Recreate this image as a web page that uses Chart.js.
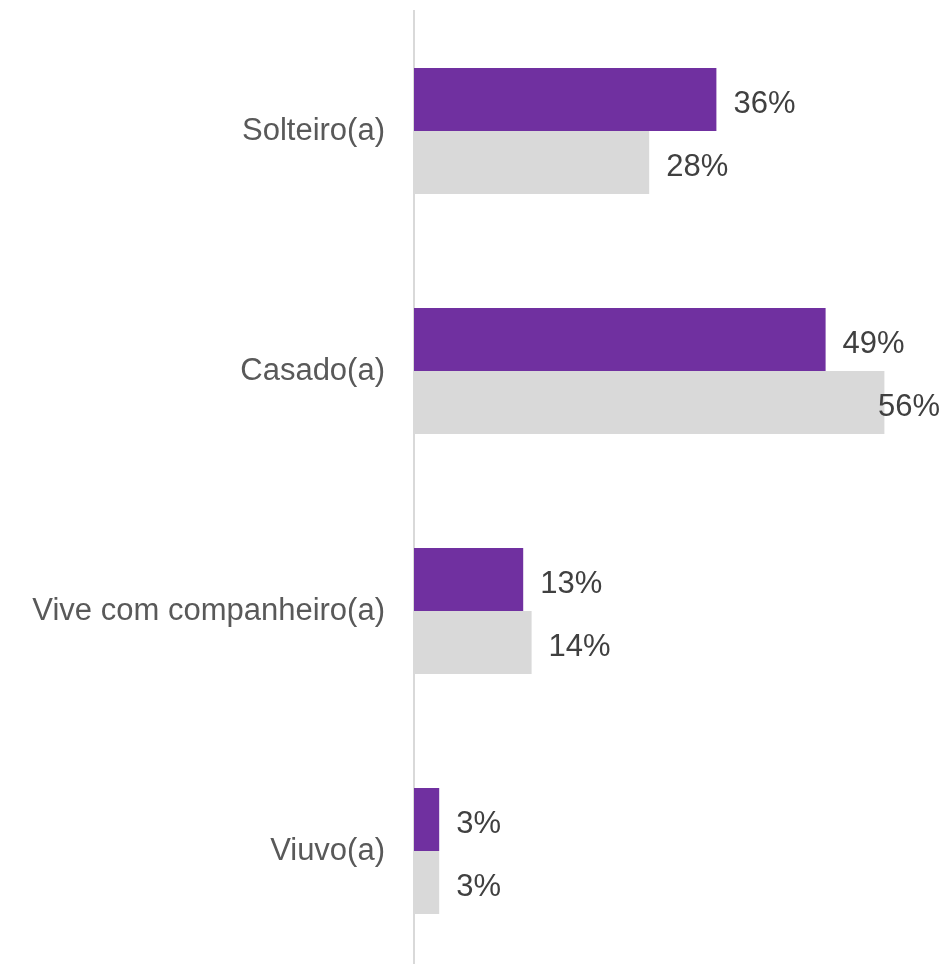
<!DOCTYPE html>
<html>
<head>
<meta charset="utf-8">
<script src="https://cdn.jsdelivr.net/npm/chart.js@4"></script>
<style>
  html, body { margin: 0; padding: 0; background: #fff; overflow: hidden; }
  #wrap { width: 945px; height: 964px; overflow: hidden; }
</style>
</head>
<body>
<div id="wrap">
  <canvas id="chart" width="945" height="980"></canvas>
</div>
<script>
// estado civil, two groups compared (percent)
const categories = ["Solteiro(a)", "Casado(a)", "Vive com companheiro(a)", "Viuvo(a)"];
const groupA = [36, 49, 13, 3];
const groupB = [28, 56, 14, 3];

const FONT = "'Liberation Sans', Arial, Helvetica, sans-serif";

// value labels to the right of each bar, kept inside the canvas
const valueLabels = {
  id: "valueLabels",
  afterDatasetsDraw(chart) {
    const ctx = chart.ctx;
    ctx.save();
    ctx.font = "31px " + FONT;
    ctx.fillStyle = "#404040";
    ctx.textAlign = "left";
    ctx.textBaseline = "alphabetic";
    chart.data.datasets.forEach((ds, i) => {
      chart.getDatasetMeta(i).data.forEach((bar, j) => {
        const txt = ds.data[j] + "%";
        const w = ctx.measureText(txt).width;
        const x = Math.min(bar.x + 17, chart.width - 5 - w);
        ctx.fillText(txt, x, bar.y + 13);
      });
    });
    ctx.restore();
  }
};

new Chart(document.getElementById("chart"), {
  type: "bar",
  data: {
    labels: categories,
    datasets: [
      {
        data: groupA,
        backgroundColor: "#7030a0",
        categoryPercentage: 0.525,
        barPercentage: 1.0
      },
      {
        data: groupB,
        backgroundColor: "#d9d9d9",
        categoryPercentage: 0.525,
        barPercentage: 1.0
      }
    ]
  },
  options: {
    indexAxis: "y",
    responsive: false,
    animation: false,
    devicePixelRatio: 1,
    layout: { padding: { top: 11, bottom: 9, right: 27, left: 0 } },
    plugins: {
      legend: { display: false },
      tooltip: { enabled: false }
    },
    scales: {
      x: {
        display: false,
        min: 0,
        max: 60
      },
      y: {
        afterFit(scale) {
          scale.width = 414;
          // no extra room above/below for the tick labels
          scale.paddingTop = 0;
          scale.paddingBottom = 0;
        },
        grid: { display: false, drawTicks: false },
        border: { display: true, color: "#d9d9d9", width: 2 },
        ticks: {
          color: "#595959",
          padding: 29,
          font: { family: FONT, size: 31 }
        }
      }
    }
  },
  plugins: [valueLabels]
});
</script>
</body>
</html>
